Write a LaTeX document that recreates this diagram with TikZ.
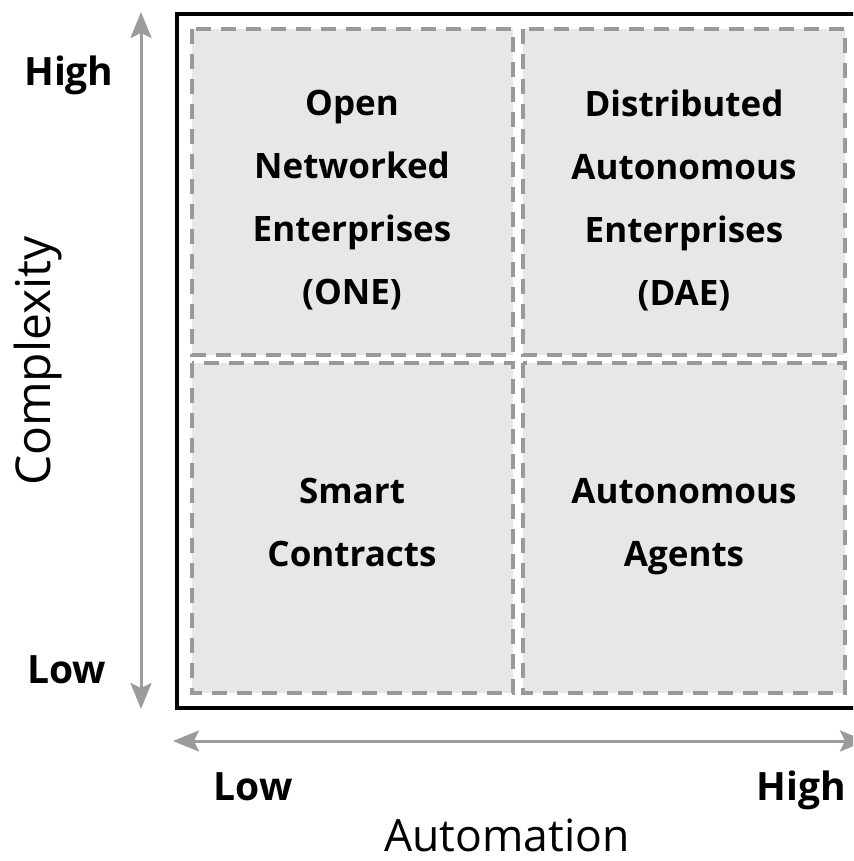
\documentclass[tikz,border=0pt]{standalone}
\usepackage{fontspec}
\setmainfont{Open Sans}
\usetikzlibrary{arrows.meta,positioning}
\definecolor{cellgray}{HTML}{E6E7E8}
\definecolor{dashgray}{HTML}{999999}
\definecolor{axisgray}{HTML}{9B9B9B}

\begin{document}
\begin{tikzpicture}[x=1pt,y=-1pt,
cell/.style={fill=cellgray,draw=dashgray,line width=3.5pt,dash pattern=on 15pt off 10pt},
celltext/.style={font=\fontsize{35}{63}\selectfont\bfseries,align=center,anchor=north,inner sep=0pt},
axis/.style={draw=axisgray,line width=3pt,{Stealth[length=26pt,width=21pt,inset=5pt]}-{Stealth[length=26pt,width=21pt,inset=5pt]}},
level/.style={font=\fontsize{39}{39}\selectfont\bfseries,inner sep=0pt},
axistitle/.style={inner sep=0pt}]
\useasboundingbox (0,0) rectangle (853,861);
\clip (0,0) rectangle (853,861);
\draw[line width=3.2pt] (177,14) rectangle (875,708);
\draw[cell] (192,29) rectangle (513,355);
\draw[cell] (523,29) rectangle (845,355);
\draw[cell] (192,363) rectangle (513,693);
\draw[cell] (523,363) rectangle (845,693);
\node[celltext] (one) at (352,90) {Open\\Networked\\Enterprises\\(ONE)};
\node[celltext] (dae) at (684,90) {Distributed\\Autonomous\\Enterprises\\(DAE)};
\node[celltext] (smart) at (352,478) {Smart\\Contracts};
\node[celltext] (agents) at (684,478) {Autonomous\\Agents};
\coordinate (ytop) at (141,12); \coordinate (ybot) at (141,709);
\coordinate (xleft) at (173,741); \coordinate (xright) at (866,741);
\draw[axis] (ybot) -- (ytop);
\draw[axis] (xleft) -- (xright);
\node[level,anchor=base west] (yhigh) at (24,86) {High};
\node[level,anchor=base west] (ylow) at (27,683) {Low};
\node[level,anchor=base] (xlow) at (253,800) {Low};
\node[level,anchor=base] (xhigh) at (801,800) {High};
\node[axistitle,font=\fontsize{44.5}{44.5}\selectfont,anchor=base] (xtitle) at (507,851) {Automation};
\node[axistitle,font=\fontsize{48}{48}\selectfont,anchor=base,rotate=90] (ytitle) at (50,361) {Complexity};
\end{tikzpicture}
\end{document}
